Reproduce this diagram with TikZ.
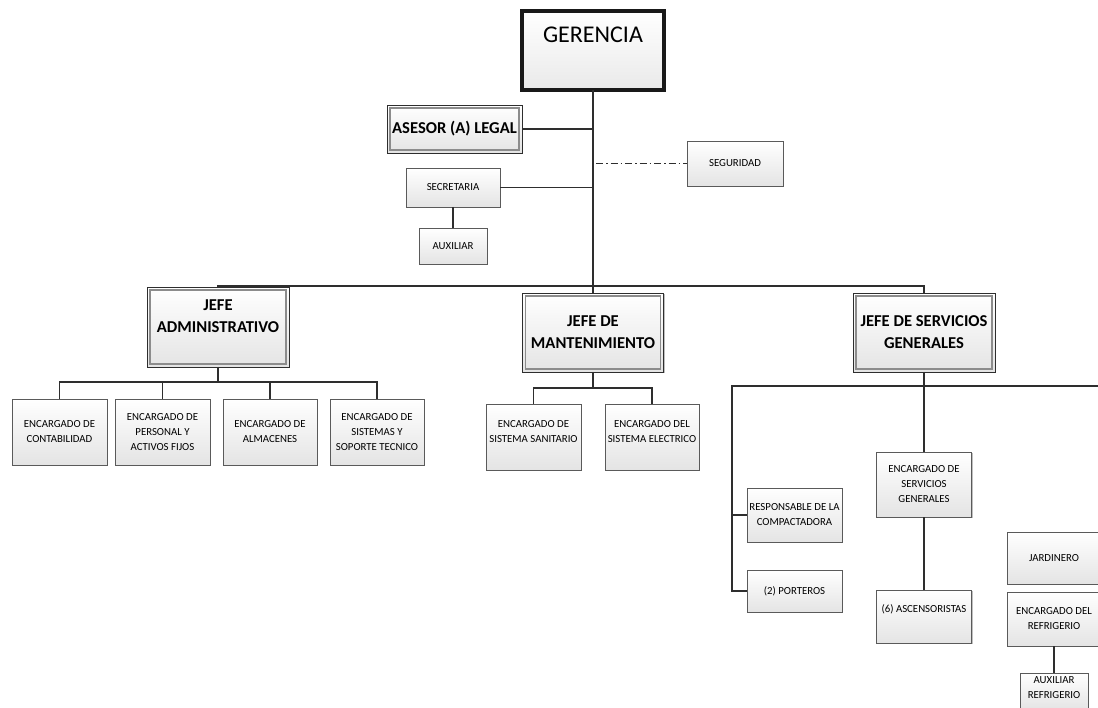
\documentclass[tikz,border=0pt]{standalone}
\usepackage{fontspec}
\setmainfont{Carlito}
\usetikzlibrary{shadows}

\definecolor{edge}{HTML}{2E2E2E}
\definecolor{rim}{HTML}{5A5A5A}
\definecolor{inner}{HTML}{8C8C8C}
\definecolor{shade}{HTML}{E4E4E4}

\tikzset{
  box/.style={draw=rim, line width=0.8pt, top color=white, bottom color=shade,
    inner sep=0pt, outer sep=0pt, align=center,
    font=\fontsize{10.8}{15}\selectfont,
    drop shadow={shadow xshift=1.2pt, shadow yshift=-1.2pt, opacity=0.25, fill=black}},
  dbox/.style={box, draw=edge, line width=0.9pt,
    font=\fontsize{16.6}{22}\selectfont\bfseries,
    path picture={\draw[inner, line width=1.5pt]
      ([shift={(2.8pt,-2.8pt)}]path picture bounding box.north west) rectangle
      ([shift={(-2.8pt,2.8pt)}]path picture bounding box.south east);}},
  topbox/.style={draw=black!90, line width=4pt, top color=white, bottom color=shade!80,
    inner sep=0pt, outer sep=0pt,
    drop shadow={shadow xshift=1.5pt, shadow yshift=-1.5pt, opacity=0.25, fill=black}},
  txt/.style={align=center, inner sep=0pt, font=\fontsize{10.8}{15}\selectfont},
  btxt/.style={align=center, inner sep=0pt, font=\fontsize{16.6}{22}\selectfont\bfseries},
  link/.style={draw=edge, line width=1.3pt},
  dashdotlink/.style={draw=edge, line width=1.1pt, dash pattern=on 7pt off 3pt on 1.5pt off 3pt},
}

\begin{document}
\begin{tikzpicture}[x=1pt, y=-1pt]
\useasboundingbox (0,0) rectangle (1098,708);
\clip (0,0) rectangle (1098,708);

% top management
\node[topbox, minimum width=142pt, minimum height=79pt] (ger) at (593,50.5) {};
\node[anchor=base, inner sep=0pt, font=\fontsize{24}{28}\selectfont] (gertext) at (593,43) {GERENCIA};

% staff units
\node[dbox, minimum width=135pt, minimum height=48pt] (ases) at (454.5,129) {ASESOR (A) LEGAL};
\node[box, minimum width=96pt, minimum height=45pt] (seg) at (735,163.5) {SEGURIDAD};
\node[box, minimum width=94pt, minimum height=39pt] (sec) at (453,187.5) {SECRETARIA};
\node[box, minimum width=68pt, minimum height=36pt] (aux) at (453,246) {AUXILIAR};

% department heads
\node[dbox, minimum width=142pt, minimum height=80pt] (jadm) at (218,327) {};
\node[btxt] (jadmtext) at (218,316) {JEFE\\ADMINISTRATIVO};
\node[dbox, minimum width=141pt, minimum height=79pt] (jman) at (593,332.5) {JEFE DE\\MANTENIMIENTO};
\node[dbox, minimum width=142pt, minimum height=79pt] (jserv) at (924,332.5) {JEFE DE SERVICIOS\\GENERALES};

% administration
\node[box, minimum width=95pt, minimum height=66pt] (cont) at (59.5,432) {ENCARGADO DE\\CONTABILIDAD};
\node[box, minimum width=95pt, minimum height=66pt] (pers) at (162.5,432) {ENCARGADO DE\\PERSONAL Y\\ACTIVOS FIJOS};
\node[box, minimum width=94pt, minimum height=66pt] (alm) at (270,432) {ENCARGADO DE\\ALMACENES};
\node[box, minimum width=94pt, minimum height=66pt] (sist) at (377,432) {ENCARGADO DE\\SISTEMAS Y\\SOPORTE TECNICO};

% maintenance
\node[box, minimum width=95pt, minimum height=66pt] (san) at (533.5,437) {};
\node[txt] (santext) at (533.5,432) {ENCARGADO DE\\SISTEMA SANITARIO};
\node[box, minimum width=94pt, minimum height=66pt] (elec) at (652,437) {};
\node[txt] (electext) at (652,432) {ENCARGADO DEL\\SISTEMA ELECTRICO};

% general services
\node[box, minimum width=95pt, minimum height=54pt] (resp) at (794.5,515) {RESPONSABLE DE LA\\COMPACTADORA};
\node[box, minimum width=95pt, minimum height=42pt] (port) at (794.5,591) {(2) PORTEROS};
\node[box, minimum width=95pt, minimum height=65pt] (esg) at (924,484.5) {ENCARGADO DE\\SERVICIOS\\GENERALES};
\node[box, minimum width=95pt, minimum height=53pt] (asc) at (924,616.5) {};
\node[txt] (asctext) at (924,609) {(6) ASCENSORISTAS};
\node[box, minimum width=94pt, minimum height=52pt] (jard) at (1054,558) {JARDINERO};
\node[box, minimum width=94pt, minimum height=54pt] (refr) at (1054,619) {ENCARGADO DEL\\REFRIGERIO};
\node[box, minimum width=68pt, minimum height=37pt] (auxr) at (1054,691.5) {};
\node[txt] (auxrtext) at (1054,688) {AUXILIAR\\REFRIGERIO};

% junction points
\coordinate (bus) at (593,286);
\coordinate (admbus) at (218,382);
\coordinate (manbus) at (593,388);
\coordinate (servbus) at (924,386);
\coordinate (servleft) at (732,386);
\coordinate (servright) at (1110,386);

% trunk and staff links
\draw[link] (ger.south) -- (bus);
\draw[link] (ases.east) -- (ases.east -| ger.south);
\draw[link] (sec.east) -- (sec.east -| ger.south);
\draw[link] (sec.south) -- (aux.north);
\draw[dashdotlink] ([xshift=3pt]seg.west -| ger.south) -- (seg.west);

% heads
\draw[link] (jadm.north) |- (bus) -| (jserv.north);
\draw[link] (bus) -- (jman.north);

% administration branch
\draw[link] (jadm.south) -- (admbus);
\draw[link] (cont.north) |- (admbus) -| (sist.north);
\draw[link] (pers.north) -- (pers.north |- admbus);
\draw[link] (alm.north) -- (alm.north |- admbus);

% maintenance branch
\draw[link] (jman.south) -- (manbus);
\draw[link] (san.north) |- (manbus) -| (elec.north);

% general services branch
\draw[link] (jserv.south) -- (servbus);
\draw[link] (servright) -- (servleft) |- (port.west);
\draw[link] (resp.west) -- (resp.west -| servleft);
\draw[link] (servbus) -- (esg.north);
\draw[link] (esg.south) -- (asc.north);
\draw[link] (refr.south) -- (auxr.north);
\end{tikzpicture}
\end{document}
